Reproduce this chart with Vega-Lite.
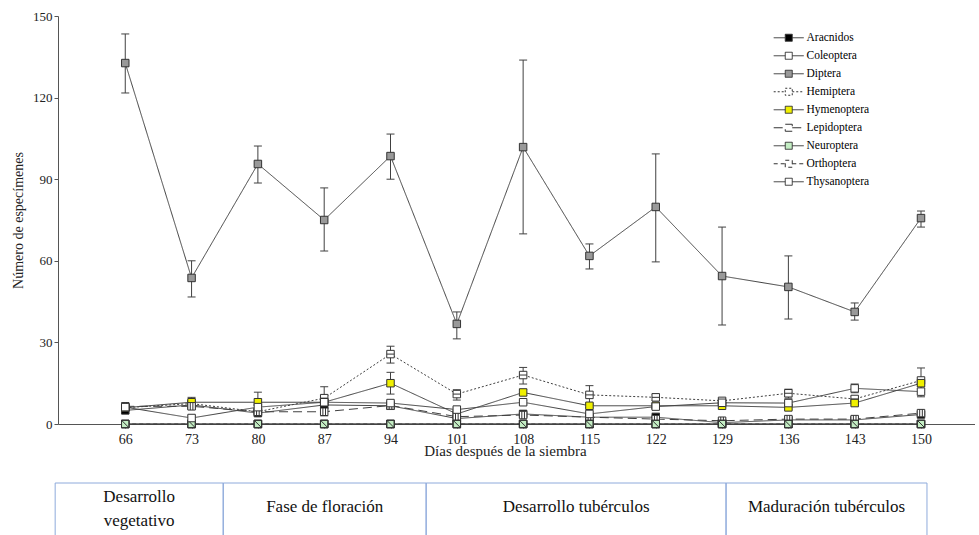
{
  "$schema": "https://vega.github.io/schema/vega-lite/v6.json",
  "background": "white",
  "padding": {"left": 11, "top": 10, "right": 0, "bottom": 0},
  "spacing": 24,
  "config": {
    "font": "Liberation Serif",
    "view": {"stroke": null},
    "axis": {"grid": false, "domainColor": "#555555", "tickColor": "#555555", "labelColor": "#222222", "titleColor": "#222222", "labelFont": "Liberation Serif", "titleFont": "Liberation Serif", "labelFontSize": 13, "titleFontSize": 14, "titleFontWeight": "normal", "tickSize": 4}
  },
  "datasets": {
    "insectos": [
      {"dia": 66, "orden": "Aracnidos", "media": 5, "inf": 4, "sup": 6},
      {"dia": 73, "orden": "Aracnidos", "media": 7, "inf": 6, "sup": 8},
      {"dia": 80, "orden": "Aracnidos", "media": 4, "inf": 3.3, "sup": 4.7},
      {"dia": 87, "orden": "Aracnidos", "media": 7, "inf": 6, "sup": 8},
      {"dia": 94, "orden": "Aracnidos", "media": 6.7, "inf": 6, "sup": 7.4},
      {"dia": 101, "orden": "Aracnidos", "media": 2, "inf": 1.2, "sup": 2.8},
      {"dia": 108, "orden": "Aracnidos", "media": 3.7, "inf": 3, "sup": 4.4},
      {"dia": 115, "orden": "Aracnidos", "media": 2.5, "inf": 2, "sup": 3},
      {"dia": 122, "orden": "Aracnidos", "media": 2.5, "inf": 1, "sup": 4},
      {"dia": 129, "orden": "Aracnidos", "media": 0.5, "inf": 0, "sup": 1},
      {"dia": 136, "orden": "Aracnidos", "media": 1.5, "inf": 1, "sup": 2},
      {"dia": 143, "orden": "Aracnidos", "media": 1.5, "inf": 1, "sup": 2},
      {"dia": 150, "orden": "Aracnidos", "media": 3.5, "inf": 3, "sup": 4},
      {"dia": 66, "orden": "Coleoptera", "media": 0, "inf": 0, "sup": 0},
      {"dia": 73, "orden": "Coleoptera", "media": 0, "inf": 0, "sup": 0},
      {"dia": 80, "orden": "Coleoptera", "media": 0, "inf": 0, "sup": 0},
      {"dia": 87, "orden": "Coleoptera", "media": 0, "inf": 0, "sup": 0},
      {"dia": 94, "orden": "Coleoptera", "media": 0, "inf": 0, "sup": 0},
      {"dia": 101, "orden": "Coleoptera", "media": 0, "inf": 0, "sup": 0},
      {"dia": 108, "orden": "Coleoptera", "media": 0, "inf": 0, "sup": 0},
      {"dia": 115, "orden": "Coleoptera", "media": 0, "inf": 0, "sup": 0},
      {"dia": 122, "orden": "Coleoptera", "media": 0, "inf": 0, "sup": 0},
      {"dia": 129, "orden": "Coleoptera", "media": 0, "inf": 0, "sup": 0},
      {"dia": 136, "orden": "Coleoptera", "media": 0, "inf": 0, "sup": 0},
      {"dia": 143, "orden": "Coleoptera", "media": 0, "inf": 0, "sup": 0},
      {"dia": 150, "orden": "Coleoptera", "media": 0, "inf": 0, "sup": 0},
      {"dia": 66, "orden": "Diptera", "media": 132.7, "inf": 121.7, "sup": 143.4},
      {"dia": 73, "orden": "Diptera", "media": 53.7, "inf": 46.7, "sup": 60},
      {"dia": 80, "orden": "Diptera", "media": 95.6, "inf": 88.6, "sup": 102.2},
      {"dia": 87, "orden": "Diptera", "media": 75, "inf": 63.6, "sup": 86.8},
      {"dia": 94, "orden": "Diptera", "media": 98.5, "inf": 90, "sup": 106.6},
      {"dia": 101, "orden": "Diptera", "media": 36.8, "inf": 31.3, "sup": 41.2},
      {"dia": 108, "orden": "Diptera", "media": 101.8, "inf": 69.9, "sup": 133.8},
      {"dia": 115, "orden": "Diptera", "media": 61.8, "inf": 57, "sup": 66.2},
      {"dia": 122, "orden": "Diptera", "media": 79.8, "inf": 59.6, "sup": 99.3},
      {"dia": 129, "orden": "Diptera", "media": 54.4, "inf": 36.4, "sup": 72.4},
      {"dia": 136, "orden": "Diptera", "media": 50.4, "inf": 38.6, "sup": 61.8},
      {"dia": 143, "orden": "Diptera", "media": 41.2, "inf": 38.2, "sup": 44.5},
      {"dia": 150, "orden": "Diptera", "media": 75.7, "inf": 72.4, "sup": 78.3},
      {"dia": 66, "orden": "Hemiptera", "media": 6, "inf": 5, "sup": 7},
      {"dia": 73, "orden": "Hemiptera", "media": 7.5, "inf": 6.5, "sup": 8.5},
      {"dia": 80, "orden": "Hemiptera", "media": 4.5, "inf": 3.8, "sup": 5.2},
      {"dia": 87, "orden": "Hemiptera", "media": 9.5, "inf": 5.5, "sup": 13.7},
      {"dia": 94, "orden": "Hemiptera", "media": 25.7, "inf": 22.4, "sup": 28.6},
      {"dia": 101, "orden": "Hemiptera", "media": 11, "inf": 8.8, "sup": 12.6},
      {"dia": 108, "orden": "Hemiptera", "media": 18, "inf": 14.7, "sup": 20.8},
      {"dia": 115, "orden": "Hemiptera", "media": 10.7, "inf": 7.3, "sup": 14.1},
      {"dia": 122, "orden": "Hemiptera", "media": 9.8, "inf": 8.6, "sup": 11},
      {"dia": 129, "orden": "Hemiptera", "media": 8.5, "inf": 7.5, "sup": 9.3},
      {"dia": 136, "orden": "Hemiptera", "media": 11.3, "inf": 9.5, "sup": 12.8},
      {"dia": 143, "orden": "Hemiptera", "media": 9.2, "inf": 8.2, "sup": 10.2},
      {"dia": 150, "orden": "Hemiptera", "media": 16, "inf": 11.5, "sup": 20.6},
      {"dia": 66, "orden": "Hymenoptera", "media": 6, "inf": 5, "sup": 7},
      {"dia": 73, "orden": "Hymenoptera", "media": 8, "inf": 5.5, "sup": 9.8},
      {"dia": 80, "orden": "Hymenoptera", "media": 8, "inf": 5, "sup": 11.7},
      {"dia": 87, "orden": "Hymenoptera", "media": 8, "inf": 7, "sup": 9},
      {"dia": 94, "orden": "Hymenoptera", "media": 15, "inf": 11, "sup": 19},
      {"dia": 101, "orden": "Hymenoptera", "media": 3.7, "inf": 3, "sup": 4.4},
      {"dia": 108, "orden": "Hymenoptera", "media": 11.6, "inf": 10.5, "sup": 12.7},
      {"dia": 115, "orden": "Hymenoptera", "media": 6.7, "inf": 6, "sup": 7.4},
      {"dia": 122, "orden": "Hymenoptera", "media": 6.7, "inf": 6, "sup": 7.4},
      {"dia": 129, "orden": "Hymenoptera", "media": 6.7, "inf": 6, "sup": 7.4},
      {"dia": 136, "orden": "Hymenoptera", "media": 6.1, "inf": 5.5, "sup": 6.7},
      {"dia": 143, "orden": "Hymenoptera", "media": 7.7, "inf": 7, "sup": 8.4},
      {"dia": 150, "orden": "Hymenoptera", "media": 15, "inf": 14, "sup": 16},
      {"dia": 66, "orden": "Lepidoptera", "media": 6.5, "inf": 5.5, "sup": 7.5},
      {"dia": 73, "orden": "Lepidoptera", "media": 6.5, "inf": 5.5, "sup": 7.5},
      {"dia": 80, "orden": "Lepidoptera", "media": 4.5, "inf": 3.8, "sup": 5.2},
      {"dia": 87, "orden": "Lepidoptera", "media": 4.5, "inf": 3, "sup": 6},
      {"dia": 94, "orden": "Lepidoptera", "media": 6.8, "inf": 6, "sup": 7.6},
      {"dia": 101, "orden": "Lepidoptera", "media": 2.7, "inf": 2, "sup": 3.4},
      {"dia": 108, "orden": "Lepidoptera", "media": 3.3, "inf": 2.6, "sup": 4},
      {"dia": 115, "orden": "Lepidoptera", "media": 2.5, "inf": 2, "sup": 3},
      {"dia": 122, "orden": "Lepidoptera", "media": 1.8, "inf": 1.2, "sup": 2.4},
      {"dia": 129, "orden": "Lepidoptera", "media": 1.2, "inf": 0.7, "sup": 1.7},
      {"dia": 136, "orden": "Lepidoptera", "media": 1.8, "inf": 1.2, "sup": 2.4},
      {"dia": 143, "orden": "Lepidoptera", "media": 1.8, "inf": 1.2, "sup": 2.4},
      {"dia": 150, "orden": "Lepidoptera", "media": 4, "inf": 3.4, "sup": 4.6},
      {"dia": 66, "orden": "Neuroptera", "media": 0, "inf": 0, "sup": 0},
      {"dia": 73, "orden": "Neuroptera", "media": 0, "inf": 0, "sup": 0},
      {"dia": 80, "orden": "Neuroptera", "media": 0, "inf": 0, "sup": 0},
      {"dia": 87, "orden": "Neuroptera", "media": 0, "inf": 0, "sup": 0},
      {"dia": 94, "orden": "Neuroptera", "media": 0, "inf": 0, "sup": 0},
      {"dia": 101, "orden": "Neuroptera", "media": 0, "inf": 0, "sup": 0},
      {"dia": 108, "orden": "Neuroptera", "media": 0, "inf": 0, "sup": 0},
      {"dia": 115, "orden": "Neuroptera", "media": 0, "inf": 0, "sup": 0},
      {"dia": 122, "orden": "Neuroptera", "media": 0, "inf": 0, "sup": 0},
      {"dia": 129, "orden": "Neuroptera", "media": 0, "inf": 0, "sup": 0},
      {"dia": 136, "orden": "Neuroptera", "media": 0, "inf": 0, "sup": 0},
      {"dia": 143, "orden": "Neuroptera", "media": 0, "inf": 0, "sup": 0},
      {"dia": 150, "orden": "Neuroptera", "media": 0, "inf": 0, "sup": 0},
      {"dia": 66, "orden": "Orthoptera", "media": 0, "inf": 0, "sup": 0},
      {"dia": 73, "orden": "Orthoptera", "media": 0, "inf": 0, "sup": 0},
      {"dia": 80, "orden": "Orthoptera", "media": 0, "inf": 0, "sup": 0},
      {"dia": 87, "orden": "Orthoptera", "media": 0, "inf": 0, "sup": 0},
      {"dia": 94, "orden": "Orthoptera", "media": 0, "inf": 0, "sup": 0},
      {"dia": 101, "orden": "Orthoptera", "media": 0, "inf": 0, "sup": 0},
      {"dia": 108, "orden": "Orthoptera", "media": 0, "inf": 0, "sup": 0},
      {"dia": 115, "orden": "Orthoptera", "media": 0, "inf": 0, "sup": 0},
      {"dia": 122, "orden": "Orthoptera", "media": 0, "inf": 0, "sup": 0},
      {"dia": 129, "orden": "Orthoptera", "media": 0, "inf": 0, "sup": 0},
      {"dia": 136, "orden": "Orthoptera", "media": 0, "inf": 0, "sup": 0},
      {"dia": 143, "orden": "Orthoptera", "media": 0, "inf": 0, "sup": 0},
      {"dia": 150, "orden": "Orthoptera", "media": 0, "inf": 0, "sup": 0},
      {"dia": 66, "orden": "Thysanoptera", "media": 6.2, "inf": 5.5, "sup": 7},
      {"dia": 73, "orden": "Thysanoptera", "media": 2.2, "inf": 1.5, "sup": 3},
      {"dia": 80, "orden": "Thysanoptera", "media": 6.2, "inf": 5.5, "sup": 7},
      {"dia": 87, "orden": "Thysanoptera", "media": 8, "inf": 7.3, "sup": 8.7},
      {"dia": 94, "orden": "Thysanoptera", "media": 7.7, "inf": 7, "sup": 8.4},
      {"dia": 101, "orden": "Thysanoptera", "media": 5.3, "inf": 4.6, "sup": 6},
      {"dia": 108, "orden": "Thysanoptera", "media": 8, "inf": 7.3, "sup": 8.7},
      {"dia": 115, "orden": "Thysanoptera", "media": 3.7, "inf": 3, "sup": 4.4},
      {"dia": 122, "orden": "Thysanoptera", "media": 6.4, "inf": 5.7, "sup": 7.1},
      {"dia": 129, "orden": "Thysanoptera", "media": 7.8, "inf": 7, "sup": 8.6},
      {"dia": 136, "orden": "Thysanoptera", "media": 7.7, "inf": 7, "sup": 8.4},
      {"dia": 143, "orden": "Thysanoptera", "media": 13.1, "inf": 11.5, "sup": 14.7},
      {"dia": 150, "orden": "Thysanoptera", "media": 11.9, "inf": 10, "sup": 13.8}
    ],
    "fases": [
      {"fase": "Desarrollo\nvegetativo", "inicio": 58.6, "fin": 76.34, "lineas": 2},
      {"fase": "Fase de floración", "inicio": 76.34, "fin": 97.76, "lineas": 1},
      {"fase": "Desarrollo tubérculos", "inicio": 97.76, "fin": 129.42, "lineas": 1},
      {"fase": "Maduración tubérculos", "inicio": 129.42, "fin": 150.63, "lineas": 1}
    ]
  },
  "vconcat": [
    {
      "width": 917,
      "height": 408,
      "data": {"name": "insectos"},
      "encoding": {
        "x": {
          "field": "dia", "type": "quantitative",
          "scale": {"domain": [58.9, 155.7], "nice": false, "zero": false},
          "axis": {"title": "Días después de la siembra", "values": [66, 73, 80, 87, 94, 101, 108, 115, 122, 129, 136, 143, 150], "labelPadding": 4, "labelFontSize": 14, "titleFontSize": 15, "titlePadding": -3, "titleX": 447}
        }
      },
      "layer": [
        {
          "transform": [{"filter": "false"}],
          "mark": {"type": "point", "shape": "M-4.3,0H-1M1,0H4.3M-1,-1H1V1H-1Z", "size": 49, "stroke": "#333333", "strokeWidth": 1, "opacity": 1},
          "encoding": {
            "y": {
              "field": "media", "type": "quantitative", "title": "Número de especímenes",
              "scale": {"domain": [0, 150], "nice": false},
              "axis": {"values": [0, 30, 60, 90, 120, 150], "labelPadding": 2, "titlePadding": 7}
            },
            "fill": {
              "field": "orden", "type": "nominal",
              "legend": {"title": null, "orient": "none", "legendX": 725, "legendY": 16, "labelFontSize": 11.5, "labelFont": "Liberation Serif", "labelColor": "#000000", "symbolType": "M-4.3,0H-1M1,0H4.3M-1,-1H1V1H-1Z", "symbolSize": 49, "symbolStrokeColor": "#333333", "symbolStrokeWidth": 1, "rowPadding": 5, "labelOffset": 12}
            },
            "strokeDash": {
              "field": "orden", "type": "nominal",
              "legend": {"title": null, "orient": "none", "legendX": 725, "legendY": 16, "labelFontSize": 11.5, "labelFont": "Liberation Serif", "labelColor": "#000000", "symbolType": "M-4.3,0H-1M1,0H4.3M-1,-1H1V1H-1Z", "symbolSize": 49, "symbolStrokeColor": "#333333", "symbolStrokeWidth": 1, "rowPadding": 5, "labelOffset": 12}
            }
          }
        },
        {
          "mark": {"type": "line", "color": "#404040", "strokeWidth": 1},
          "encoding": {
            "y": {"field": "media", "type": "quantitative", "title": "Número de especímenes"},
            "strokeDash": {
              "field": "orden", "type": "nominal",
              "scale": {"domain": ["Aracnidos", "Coleoptera", "Diptera", "Hemiptera", "Hymenoptera", "Lepidoptera", "Neuroptera", "Orthoptera", "Thysanoptera"],
                        "range": [[1, 0], [1, 0], [1, 0], [2, 2], [1, 0], [9, 5], [1, 0], [4, 3], [1, 0]]}
            }
          }
        },
        {
          "mark": {"type": "rule", "color": "#404040", "strokeWidth": 1},
          "encoding": {
            "y": {"field": "inf", "type": "quantitative", "title": "Número de especímenes"},
            "y2": {"field": "sup"}
          }
        },
        {
          "mark": {"type": "tick", "orient": "horizontal", "size": 8, "thickness": 1, "color": "#404040", "opacity": 1},
          "encoding": {"y": {"field": "inf", "type": "quantitative", "title": "Número de especímenes"}}
        },
        {
          "mark": {"type": "tick", "orient": "horizontal", "size": 8, "thickness": 1, "color": "#404040", "opacity": 1},
          "encoding": {"y": {"field": "sup", "type": "quantitative", "title": "Número de especímenes"}}
        },
        {
          "mark": {"type": "point", "size": 56, "stroke": "#333333", "strokeWidth": 1, "opacity": 1},
          "encoding": {
            "y": {"field": "media", "type": "quantitative", "title": "Número de especímenes"},
            "fill": {
              "field": "orden", "type": "nominal",
              "scale": {"domain": ["Aracnidos", "Coleoptera", "Diptera", "Hemiptera", "Hymenoptera", "Lepidoptera", "Neuroptera", "Orthoptera", "Thysanoptera"],
                        "range": ["#000000", "#ffffff", "#999999", "#ffffff", "#f0f000", "#ffffff", "#c4eec4", "transparent", "#ffffff"]}
            },
            "shape": {
              "field": "orden", "type": "nominal",
              "scale": {"range": ["M-1,-1H1V1H-1Z", "M-1,-1H1V1H-1ZM-0.6,-0.6L0.6,0.6M0.6,-0.6L-0.6,0.6", "M-1,-1H1V1H-1Z", "M-1,-1H1V1H-1ZM-1,0H1", "M-1,-1H1V1H-1Z", "M-1,-1H1V1H-1ZM-0.35,-1V1M0.35,-1V1", "M-1,-1H1V1H-1Z", "M-1,-1H1V1H-1ZM-1,-1L1,1", "M-1,-1H1V1H-1Z"]},
              "legend": null
            }
          }
        }
      ]
    },
    {
      "width": 917,
      "height": 52,
      "data": {"name": "fases"},
      "transform": [
        {"calculate": "(datum.inicio + datum.fin) / 2", "as": "centro"},
        {"calculate": "datum.lineas > 1 ? 0.73 : 0.54", "as": "ytexto"}
      ],
      "encoding": {
        "x": {"field": "inicio", "type": "quantitative", "scale": {"domain": [58.9, 155.7], "nice": false, "zero": false}, "axis": null}
      },
      "layer": [
        {
          "mark": {"type": "rule", "color": "#8eaadb", "strokeWidth": 1, "clip": false},
          "encoding": {
            "x2": {"field": "fin"},
            "y": {"datum": 1, "type": "quantitative", "scale": {"domain": [0, 1], "nice": false}, "axis": null}
          }
        },
        {
          "mark": {"type": "rule", "color": "#8eaadb", "strokeWidth": 1, "clip": false},
          "encoding": {
            "y": {"datum": 0, "type": "quantitative"},
            "y2": {"datum": 1}
          }
        },
        {
          "mark": {"type": "rule", "color": "#8eaadb", "strokeWidth": 1, "clip": false},
          "encoding": {
            "x": {"field": "fin", "type": "quantitative"},
            "y": {"datum": 0, "type": "quantitative"},
            "y2": {"datum": 1}
          }
        },
        {
          "mark": {"type": "text", "font": "Liberation Serif", "fontSize": 17, "lineHeight": 24, "lineBreak": "\n", "baseline": "middle", "align": "center", "color": "#111111"},
          "encoding": {
            "x": {"field": "centro", "type": "quantitative"},
            "y": {"field": "ytexto", "type": "quantitative"},
            "text": {"field": "fase", "type": "nominal"}
          }
        }
      ]
    }
  ]
}
